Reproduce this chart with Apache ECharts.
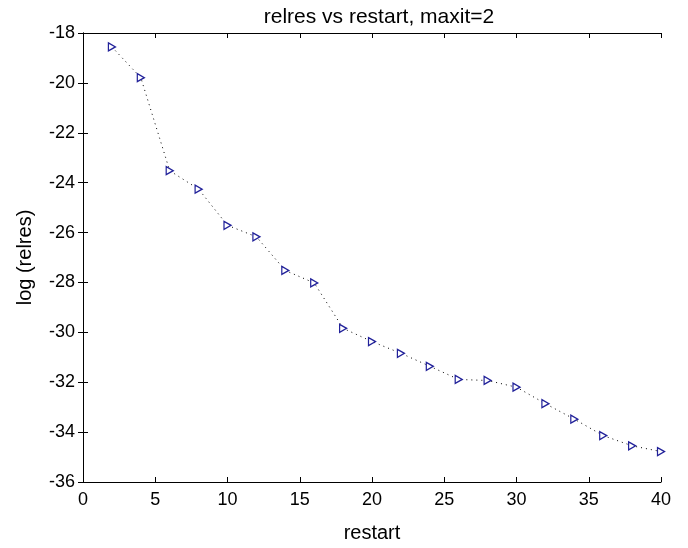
<!DOCTYPE html>
<html>
<head>
<meta charset="utf-8">
<script src="https://cdn.jsdelivr.net/npm/echarts@6/dist/echarts.min.js"></script>
<style>
  html, body { margin: 0; padding: 0; background: #fff; }
  #chart { width: 688px; height: 548px; }
</style>
</head>
<body>
<div id="chart"></div>
<script>
// restart values and log(relres)
const restart = [2, 4, 6, 8, 10, 12, 14, 16, 18, 20, 22, 24, 26, 28, 30, 32, 34, 36, 38, 40];
const logRelres = [-18.56, -19.79, -23.52, -24.26, -25.71, -26.17, -27.52, -28.02, -29.84, -30.37,
  -30.84, -31.36, -31.89, -31.93, -32.2, -32.86, -33.48, -34.14, -34.55, -34.78];

const chart = echarts.init(document.getElementById('chart'));

const font = 'Liberation Sans, Arial, sans-serif';
const axisLine = { show: true, lineStyle: { color: '#000', width: 1 } };
const tick = { show: true, inside: true, length: 5, lineStyle: { color: '#000' } };

chart.setOption({
  animation: false,
  title: {
    text: 'relres vs restart, maxit=2',
    left: 374,
    top: 2,
    textAlign: 'center',
    textStyle: { fontFamily: font, fontSize: 21, fontWeight: 'normal', color: '#000' }
  },
  grid: { left: 83, right: 27, top: 33, bottom: 62 },
  xAxis: [
    {
      type: 'value', min: 0, max: 40, interval: 5,
      name: 'restart', nameLocation: 'middle', nameGap: 41,
      nameTextStyle: { fontFamily: font, fontSize: 20, color: '#000' },
      axisLine: axisLine, axisTick: tick,
      axisLabel: { fontFamily: font, fontSize: 18, color: '#000', margin: 9 },
      splitLine: { show: false }
    },
    {
      type: 'value', min: 0, max: 40, interval: 5, position: 'top',
      axisLine: axisLine, axisTick: tick, axisLabel: { show: false }, splitLine: { show: false }
    }
  ],
  yAxis: [
    {
      type: 'value', min: -36, max: -18, interval: 2,
      name: 'log (relres)', nameLocation: 'middle', nameGap: 48, nameRotate: 90,
      nameTextStyle: { fontFamily: font, fontSize: 20, color: '#000' },
      axisLine: axisLine, axisTick: tick,
      axisLabel: { fontFamily: font, fontSize: 18, color: '#000', margin: 8 },
      splitLine: { show: false }
    },
    {
      type: 'value', min: -36, max: -18, interval: 2, position: 'right',
      axisLine: axisLine, axisTick: tick, axisLabel: { show: false }, splitLine: { show: false }
    }
  ],
  series: [
    {
      type: 'line',
      data: restart.map((r, i) => [r, logRelres[i]]),
      symbol: 'path://M0,0 L10,5 L0,10 Z',
      symbolSize: [7, 8],
      showAllSymbol: true,
      itemStyle: { color: '#fff', borderColor: '#22229a', borderWidth: 1.3 },
      lineStyle: { color: '#000', width: 1, type: [1, 4] },
      clip: false
    }
  ]
});
</script>
</body>
</html>
